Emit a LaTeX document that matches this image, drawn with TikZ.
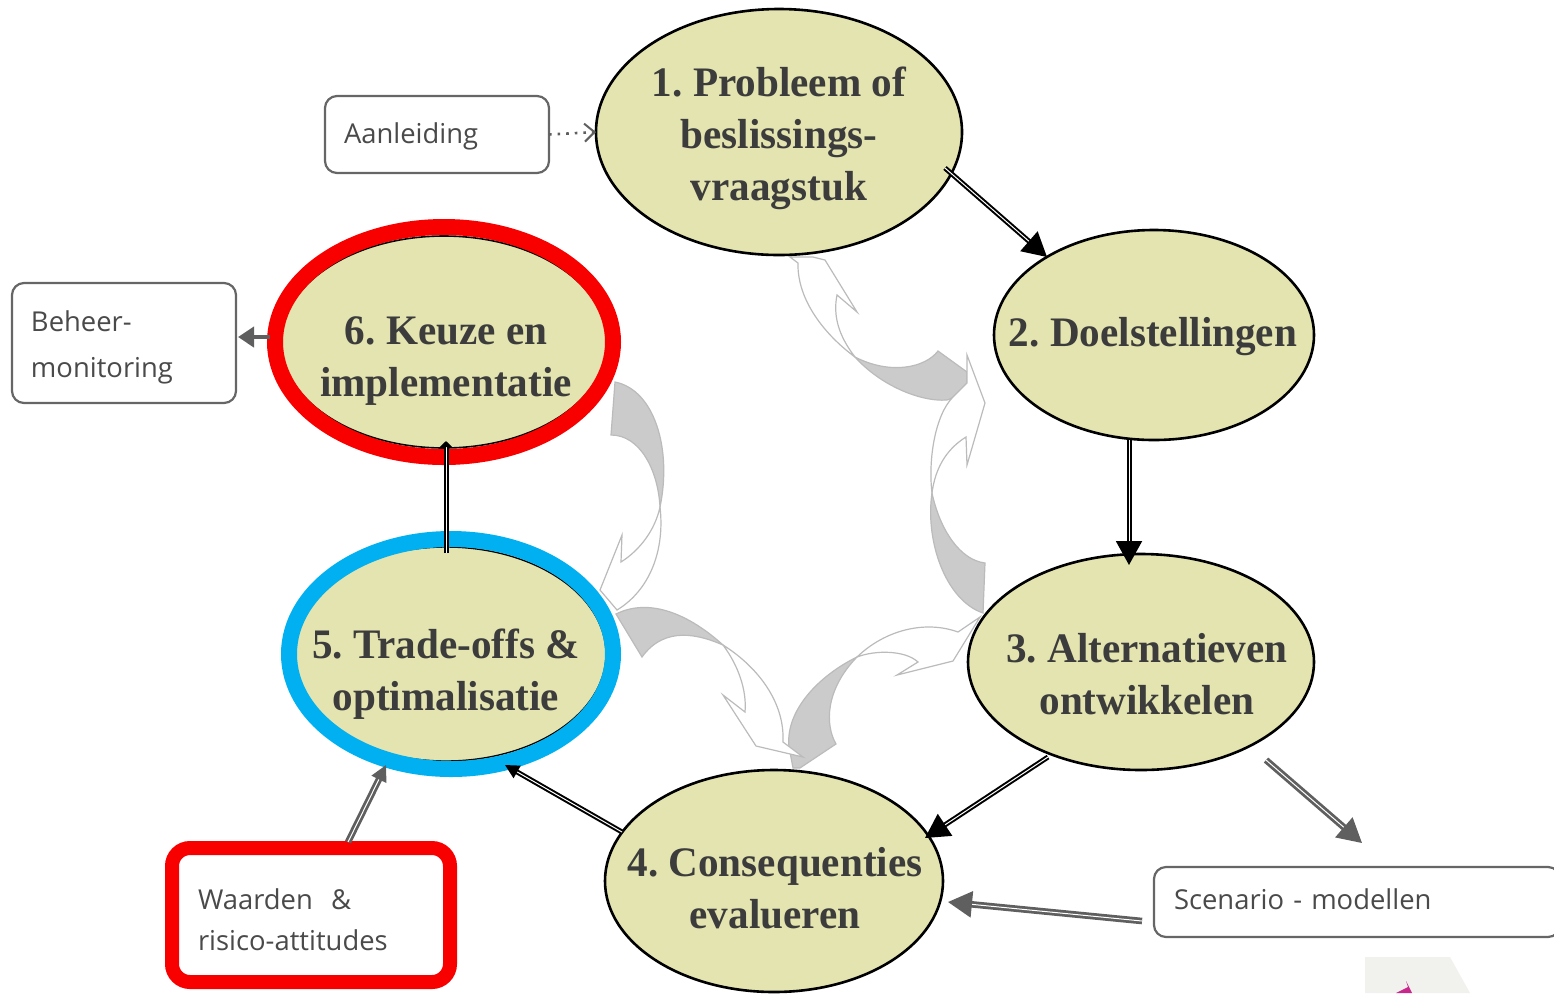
\documentclass[tikz,border=0pt]{standalone}
\usepackage{fontspec}
\setmainfont{Liberation Serif}[FakeStretch=0.98]
\newfontfamily\boxfont{Open Sans}
\usetikzlibrary{shapes.geometric,arrows.meta}
\definecolor{ellfill}{HTML}{E4E4B0}
\definecolor{elltext}{HTML}{3C3C3C}
\definecolor{boxline}{HTML}{666666}
\definecolor{boxtext}{HTML}{4A4A4A}
\definecolor{curlline}{HTML}{BBBBBB}
\definecolor{curlfill}{HTML}{CBCBCB}
\definecolor{ringred}{HTML}{F80000}
\definecolor{ringblue}{HTML}{00B0F0}
\definecolor{greyarrow}{HTML}{5F5F5F}
\definecolor{patch}{HTML}{F1F1ED}
\definecolor{pinkbit}{HTML}{C8288C}
\tikzset{
  ell/.style={ellipse,draw=black,fill=ellfill,line width=1.3pt,inner sep=0pt,outer sep=0pt},
  ring/.style={ellipse,draw,line width=8pt,inner sep=0pt,outer sep=0pt},
  elltxt/.style={font=\frenchspacing\fontsize{21}{26}\selectfont\bfseries,text=elltext,align=center,inner sep=0pt},
  infobox/.style={rectangle,draw=boxline,line width=1.1pt,rounded corners=6pt,fill=white,inner sep=0pt,outer sep=0pt,
    font=\boxfont\fontsize{13.7}{20}\selectfont,text=boxtext,align=left},
  redbox/.style={infobox,draw=ringred,line width=7pt,rounded corners=9pt},
  curlwhite/.style={draw=curlline,fill=white,line width=0.6pt,line join=miter},
  curlgrey/.style={draw=curlline,fill=curlfill,line width=0.6pt,line join=miter},
  blackdbl/.style={draw=black,line width=1pt,double=white,double distance=0.5pt,-{Triangle[length=12pt,width=13pt,fill=black]}},
  greydbl/.style={draw=greyarrow,line width=1.4pt,double=white,double distance=0.5pt,-{Triangle[length=12pt,width=13pt,fill=greyarrow]}},
}
\begin{document}
\begin{tikzpicture}[x=0.5pt,y=-0.5pt]
\useasboundingbox (0,0) rectangle (1554,993);
% faint patch bottom right
\fill[patch] (1365,957) -- (1450,957) -- (1470,993) -- (1365,993) -- cycle;
\fill[pinkbit] (1396,993) -- (1408,987) -- (1406,981) -- (1412,993) -- cycle;
% curved arrows
\path[curlwhite] (790,257) -- (798,263) .. controls (797,300) and (825,335) .. (855,357) .. controls (838,335) and (833,315) .. (837,295) -- (857,312) -- (825,260) -- (813,257) -- cycle;
\path[curlgrey] (855,357) .. controls (880,385) and (920,402) .. (947,400) .. controls (955,398) and (960,390) .. (967,383) -- (967,372) -- (938,351) .. controls (925,368) and (890,375) .. (855,357) -- cycle;
\path[curlwhite] (953,397) .. controls (935,415) and (928,460) .. (932,493) .. controls (935,470) and (945,450) .. (966,437) -- (967,465) -- (985,403) -- (967,355) -- (967,383) -- cycle;
\path[curlgrey] (932,493) .. controls (925,540) and (945,600) .. (983,613) -- (985,563) .. controls (960,560) and (940,530) .. (932,493) -- cycle;
\path[curlwhite] (980,617) -- (958,632) .. controls (925,620) and (885,630) .. (857,657) .. controls (875,650) and (905,650) .. (918,662) -- (897,675) -- (953,661) -- cycle;
\path[curlgrey] (857,657) .. controls (820,675) and (785,710) .. (789,747) -- (793,768) -- (800,768) -- (836,744) .. controls (825,725) and (825,690) .. (857,657) -- cycle;
\path[curlgrey] (616,614) .. controls (650,597) and (690,615) .. (723,645) .. controls (700,635) and (665,625) .. (642,657) -- cycle;
\path[curlwhite] (723,645) .. controls (755,665) and (785,700) .. (783,742) -- (803,757) -- (756,746) -- (723,695) -- (745,712) .. controls (747,690) and (738,665) .. (723,645) -- cycle;
\path[curlgrey] (615,382) .. controls (655,390) and (672,450) .. (660,507) .. controls (658,470) and (640,435) .. (611,435) -- cycle;
\path[curlwhite] (660,507) .. controls (665,550) and (650,590) .. (617,610) -- (600,590) -- (622,535) -- (621,562) .. controls (640,550) and (655,530) .. (660,507) -- cycle;
% ellipses
\node[ell,minimum width=183pt,minimum height=123pt] (n1) at (779,132) {};
\node[ell,minimum width=160pt,minimum height=105pt] (n2) at (1154,335) {};
\node[ell,minimum width=173pt,minimum height=108pt] (n3) at (1141,662) {};
\node[ell,minimum width=169pt,minimum height=111pt] (n4) at (774,881) {};
\node[ell,line width=0.7pt,minimum width=160pt,minimum height=107pt] (n5) at (446,654) {};
\node[ell,line width=0.8pt,minimum width=163pt,minimum height=106pt] (n6) at (444,342) {};
\node[ring,draw=ringblue,minimum width=162pt,minimum height=115pt] (r5) at (451,654) {};
\node[ring,draw=ringred,minimum width=169pt,minimum height=115pt] (r6) at (444,342) {};
\node[elltxt] (t1) at (779,138) {1. Probleem of\\beslissings-\\vraagstuk};
\node[elltxt] (t2) at (1153,337) {2. Doelstellingen};
\node[elltxt] (t3) at (1147,674) {3. Alternatieven\\ontwikkelen};
\node[elltxt] (t4) at (775,888) {4. Consequenties\\evalueren};
\node[elltxt] (t5) at (446,674) {5. Trade-offs \&\\optimalisatie};
\node[elltxt] (t6) at (446,361) {6. Keuze en\\implementatie};
% boxes
\node[infobox,minimum width=112pt,minimum height=38.5pt,text width=93pt] (aan) at (437,134.5) {\rule{0pt}{12.4pt}Aanleiding};
\node[infobox,minimum width=112pt,minimum height=60pt,text width=93pt,font=\boxfont\fontsize{13.7}{23}\selectfont] (beh) at (124,343) {\rule{0pt}{14.4pt}Beheer-\\monitoring};
\node[redbox,minimum width=139pt,minimum height=67pt,text width=113pt,font=\boxfont\fontsize{13.7}{20.5}\selectfont] (waa) at (311,915) {\rule{0pt}{15.4pt}Waarden\ \ \&\\risico-attitudes};
\node[infobox,minimum width=203pt,minimum height=35pt,text width=183pt] (sce) at (1357,902) {Scenario - modellen\rule[-3pt]{0pt}{1pt}};
% free ends
\coordinate (s3a) at (1266,760);
\coordinate (s3b) at (1362,843);
\coordinate (n1out) at (945,168);
\coordinate (n2in) at (1047,257);
\coordinate (n2out) at (1129,440);
\coordinate (n3in) at (1129,565);
\coordinate (n3out) at (1048,757);
\coordinate (n4in) at (925,838);
\coordinate (n4out) at (622,832);
\coordinate (n5in) at (505,765);
\coordinate (n5out) at (446,553);
\coordinate (n6in) at (446,441);
\coordinate (n5wa) at (386,765);
\coordinate (wa5) at (348,842);
\coordinate (sc4) at (1142,921);
\coordinate (n4sc) at (948,902);
\coordinate (r6w) at (270,337);
\coordinate (behe) at (238,337);
% connectors
\draw[blackdbl] (n1out) -- (n2in);
\draw[blackdbl] (n2out) -- (n3in);
\draw[blackdbl] (n3out) -- (n4in);
\draw[blackdbl,-{Triangle[length=7pt,width=7pt,fill=black]}] (n4out) -- (n5in);
\draw[blackdbl,-{Triangle[length=3pt,width=6pt,fill=black]}] (n5out) -- (n6in);
\draw[greydbl,-{Triangle[length=8pt,width=8pt,fill=greyarrow]}] (wa5) -- (n5wa);
\draw[greydbl] (sc4) -- (n4sc);
\draw[greydbl] (s3a) -- (s3b);
\draw[greyarrow,line width=2pt,-{Triangle[length=8pt,width=10pt,fill=greyarrow]}] (r6w) -- (behe);
\draw[greyarrow,line width=1.3pt,dash pattern=on 1.3pt off 3pt,-{Straight Barb[length=5pt,width=9pt,line width=1pt]}] (aan.east) -- (n1.west);
\end{tikzpicture}
\end{document}
